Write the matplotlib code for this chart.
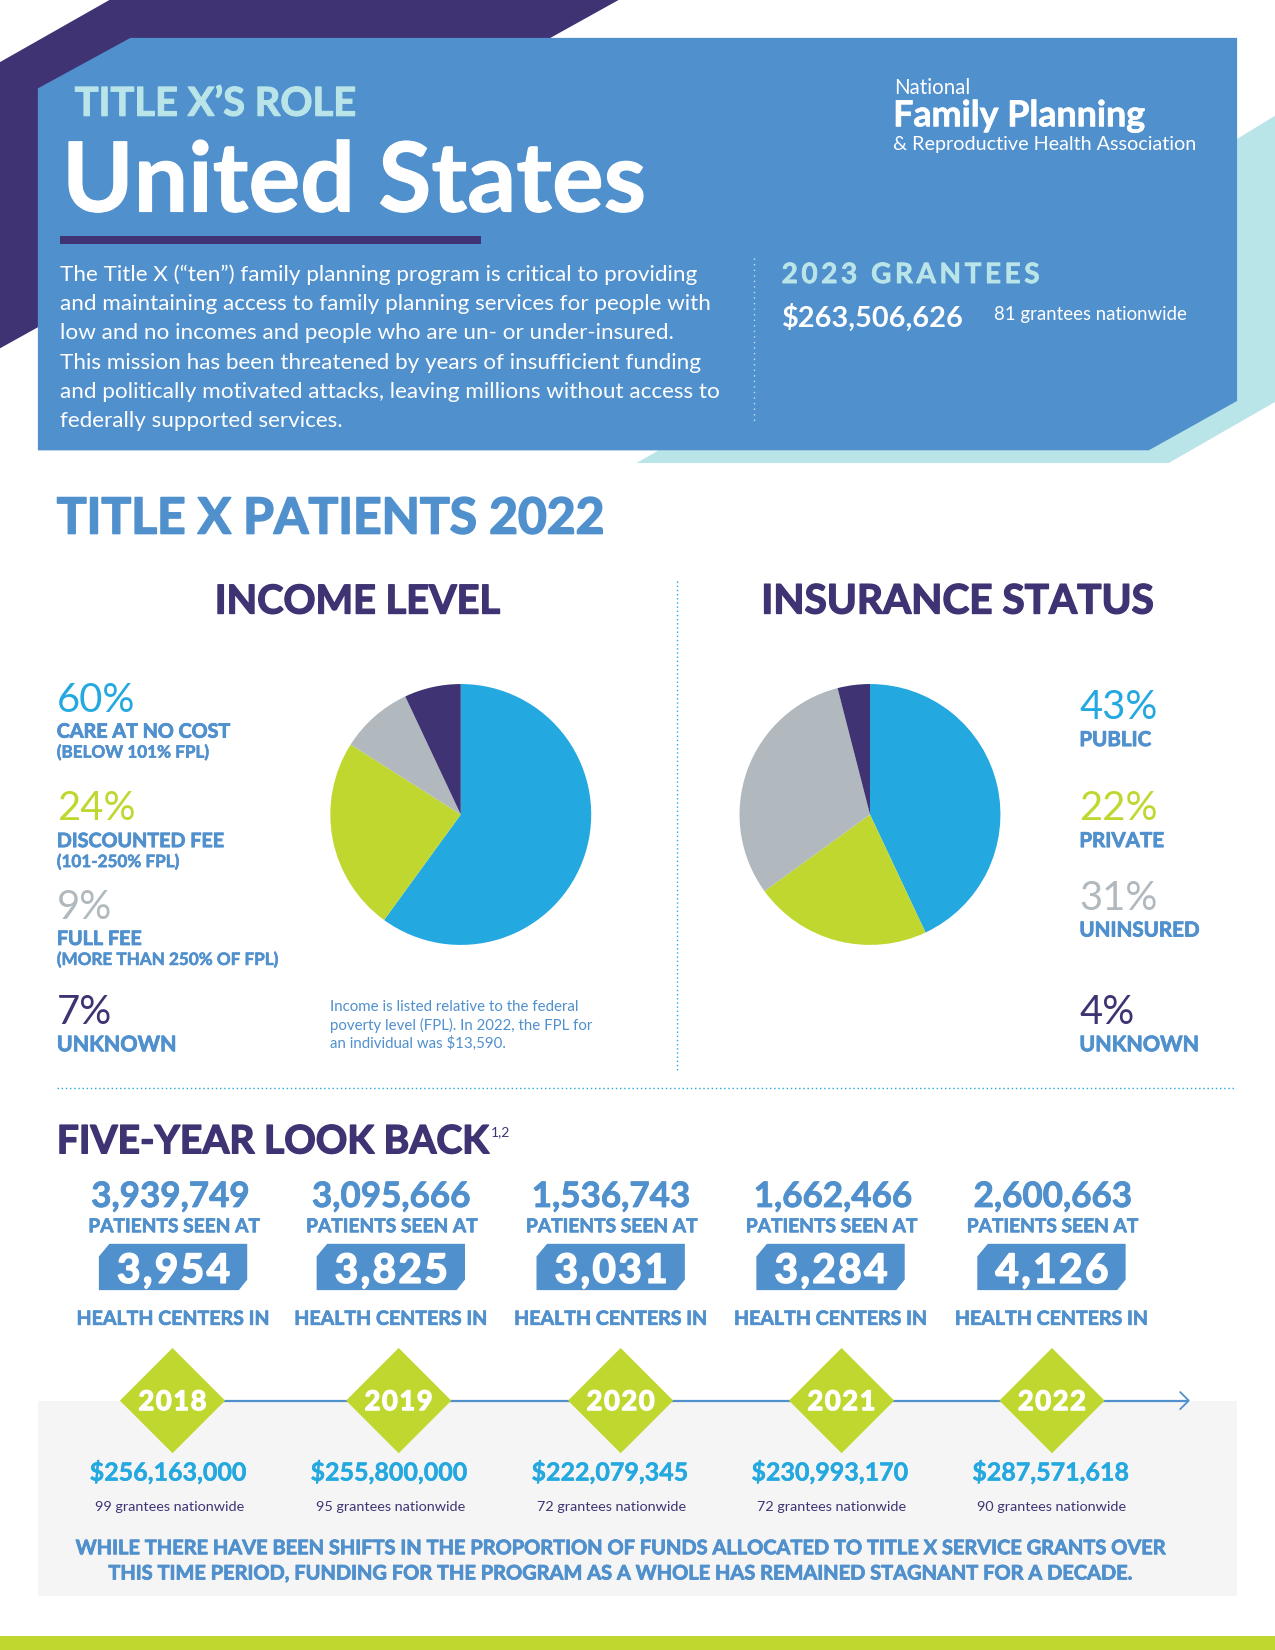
import matplotlib
matplotlib.use("Agg")
import matplotlib.pyplot as plt
import matplotlib.patheffects as pe
from matplotlib.patches import Polygon, Rectangle

BLUE = "#5090CD"
NAVY = "#3F3373"
TEAL = "#B9E4E8"
LIME = "#C0D72F"
CYAN = "#24A8E0"
GRAY = "#B1B9BE"

income_values = [60, 24, 9, 7]
income_labels = ["CARE AT NO COST", "DISCOUNTED FEE", "FULL FEE", "UNKNOWN"]
income_notes = ["(BELOW 101% FPL)", "(101-250% FPL)", "(MORE THAN 250% OF FPL)", ""]
insurance_values = [43, 22, 31, 4]
insurance_labels = ["PUBLIC", "PRIVATE", "UNINSURED", "UNKNOWN"]
pie_colors = [CYAN, LIME, GRAY, NAVY]

years = ["2018", "2019", "2020", "2021", "2022"]
patients = ["3,939,749", "3,095,666", "1,536,743", "1,662,466", "2,600,663"]
centers = ["3,954", "3,825", "3,031", "3,284", "4,126"]
funding = ["$256,163,000", "$255,800,000", "$222,079,345", "$230,993,170", "$287,571,618"]
grantees = [99, 95, 72, 72, 90]

body_lines = [
    "The Title X (\u201cten\u201d) family planning program is critical to providing",
    "and maintaining access to family planning services for people with",
    "low and no incomes and people who are un- or under-insured.",
    "This mission has been threatened by years of insufficient funding",
    "and politically motivated attacks, leaving millions without access to",
    "federally supported services.",
]

plt.rcParams["font.family"] = "Lato"

fig = plt.figure(figsize=(12.75, 16.5), dpi=100)
ax = fig.add_axes([0, 0, 1, 1])
W, H = 1212, 1568
ax.set_xlim(0, W)
ax.set_ylim(H, 0)
ax.axis("off")


def txt(x, y, s, size, color, weight="normal", ha="left", heavy=0):
    t = ax.text(x, y, s, fontsize=size, color=color, fontweight=weight, ha=ha, va="baseline", zorder=5)
    if heavy:
        # no black weight installed, so thicken the bold with a stroke
        t.set_path_effects([pe.withStroke(linewidth=heavy, foreground=color)])
    return t


def poly(pts, color, z=1):
    ax.add_patch(Polygon(pts, closed=True, facecolor=color, edgecolor="none", zorder=z))


# header shapes
poly([(0, 59), (104, 0), (588, 0), (480, 60), (36, 311), (0, 331)], NAVY)
poly([(605, 440), (1111, 440), (1212, 382), (1212, 110), (1176, 132), (1176, 380), (1092, 428), (626, 428)], TEAL)
poly([(124, 36), (1176, 36), (1176, 381), (1092, 428), (36, 428), (36, 84)], BLUE, 2)
ax.add_patch(Rectangle((57, 224), 400, 8, facecolor=NAVY, edgecolor="none", zorder=3))

txt(71, 110, "TITLE X\u2019S ROLE", 28.7, TEAL, "bold", heavy=0.8)
txt(59, 201, "United States", 69.5, "white", "bold", heavy=0.8)
txt(850, 89, "National", 14.8, "white")
txt(849, 120, "Family Planning", 25.8, "white", "bold", heavy=0.5)
txt(849, 143, "& Reproductive Health Association", 14.2, "white")
for i, line in enumerate(body_lines):
    txt(57, 267 + i * 27.8, line, 16.2, "white")
ax.plot([717, 717], [245, 402], color=TEAL, lw=1, ls=(0, (1, 3)), zorder=3)
txt(743, 269, "\u200a\u200a".join("2023 GRANTEES"), 20.2, TEAL, "bold", heavy=0.5)
txt(743, 311, "$263,506,626", 20.8, "white", "bold")
txt(945, 304, "81 grantees nationwide", 13.4, "white")

# patients section
txt(54, 507, "TITLE X PATIENTS 2022", 35.8, BLUE, "bold", heavy=1.2)
txt(340, 583, "INCOME LEVEL", 28.6, NAVY, "bold", "center", heavy=1.0)
txt(910, 583, "INSURANCE STATUS", 29.2, NAVY, "bold", "center", heavy=1.0)
ax.plot([644, 644], [552, 1018], color=CYAN, lw=1, ls=(0, (1, 2)))
ax.plot([54, 1174], [1034, 1034], color=CYAN, lw=1, ls=(0, (1, 2)))

income_y = [677, 779, 873, 973]
income_label_y = [701, 805, 898, 999]
income_note_y = [720, 824, 917, 0]
income_label_size = [14.2, 14.2, 14.2, 15.4]
pct_colors = [CYAN, LIME, GRAY, NAVY]
for i in range(4):
    txt(54, income_y[i], "%d%%" % income_values[i], 28.8, pct_colors[i])
    txt(54, income_label_y[i], income_labels[i], income_label_size[i], BLUE, "bold", heavy=0.6)
    if income_notes[i]:
        txt(54, income_note_y[i], income_notes[i], 12.3, BLUE, "bold", heavy=0.4)

insurance_y = [683, 779, 865, 973]
insurance_label_y = [709, 805, 890, 999]
insurance_label_size = [14.8, 14.8, 14.8, 15.4]
for i in range(4):
    txt(1026, insurance_y[i], "%d%%" % insurance_values[i], 28.8, pct_colors[i])
    txt(1026, insurance_label_y[i], insurance_labels[i], insurance_label_size[i], BLUE, "bold", heavy=0.6)

for i, line in enumerate(["Income is listed relative to the federal",
                          "poverty level (FPL). In 2022, the FPL for",
                          "an individual was $13,590."]):
    txt(314, 961 + i * 17.5, line, 10.8, BLUE)


def pie_at(cx, cy, r, values):
    a = fig.add_axes([(cx - r) / W, 1 - (cy + r) / H, 2 * r / W, 2 * r / H])
    a.pie(values, colors=pie_colors, startangle=90, counterclock=False, radius=1)
    a.set_xlim(-1, 1)
    a.set_ylim(-1, 1)
    a.set_zorder(2)


pie_at(438, 774, 124, income_values)
pie_at(827, 774, 124, insurance_values)

# five-year look back
txt(54, 1096, "FIVE-YEAR LOOK BACK", 28.1, NAVY, "bold", heavy=1.0)
txt(467, 1080, "1,2", 10, NAVY)
ax.add_patch(Rectangle((36, 1331), 1140, 186, facecolor="#F5F5F5", edgecolor="none", zorder=1))
ax.plot([164, 1128], [1331, 1331], color=BLUE, lw=1.6, zorder=2)
ax.plot([1122, 1130, 1122], [1323, 1331, 1339], color=BLUE, lw=1.3, zorder=2)

col_x = [165, 372, 581, 790, 1000]
patient_x = [162, 372, 581, 792, 1001]
diamond_x = [164, 379, 590, 800, 1000]
fund_x = [160, 370, 580, 789, 999]
for i in range(5):
    x = col_x[i]
    txt(patient_x[i], 1147, patients[i], 25.2, BLUE, "bold", "center", heavy=0.6)
    txt(x, 1171, "PATIENTS SEEN AT", 13.8, BLUE, "bold", "center", heavy=0.5)
    x0, x1 = x - 71, x + 70
    poly([(x0 + 10, 1182), (x1, 1182), (x1, 1216), (x1 - 8, 1226), (x0, 1226), (x0, 1194)], BLUE, 2)
    txt(x, 1219, "\u200a".join(centers[i]), 29, "white", "bold", "center", heavy=1.2)
    txt(x, 1259, "HEALTH CENTERS IN", 14.1, BLUE, "bold", "center", heavy=0.5)
    d = diamond_x[i]
    poly([(d, 1281), (d + 50, 1331), (d, 1381), (d - 50, 1331)], LIME, 3)
    txt(d, 1340, "\u200a".join(years[i]), 19.5, "white", "bold", "center", heavy=1.0)
    txt(fund_x[i], 1407, funding[i], 18, CYAN, "bold", "center", heavy=0.3)
    txt(fund_x[i] + 1, 1436, "%d grantees nationwide" % grantees[i], 10.4, NAVY, "normal", "center")

txt(590, 1477, "WHILE THERE HAVE BEEN SHIFTS IN THE PROPORTION OF FUNDS ALLOCATED TO TITLE X SERVICE GRANTS OVER",
    14.4, BLUE, "bold", "center", heavy=0.6)
txt(590, 1501, "THIS TIME PERIOD, FUNDING FOR THE PROGRAM AS A WHOLE HAS REMAINED STAGNANT FOR A DECADE.",
    14.4, BLUE, "bold", "center", heavy=0.6)

ax.add_patch(Rectangle((0, 1555), W, 13, facecolor=LIME, edgecolor="none", zorder=2))

fig.savefig("out.png", dpi=100)
